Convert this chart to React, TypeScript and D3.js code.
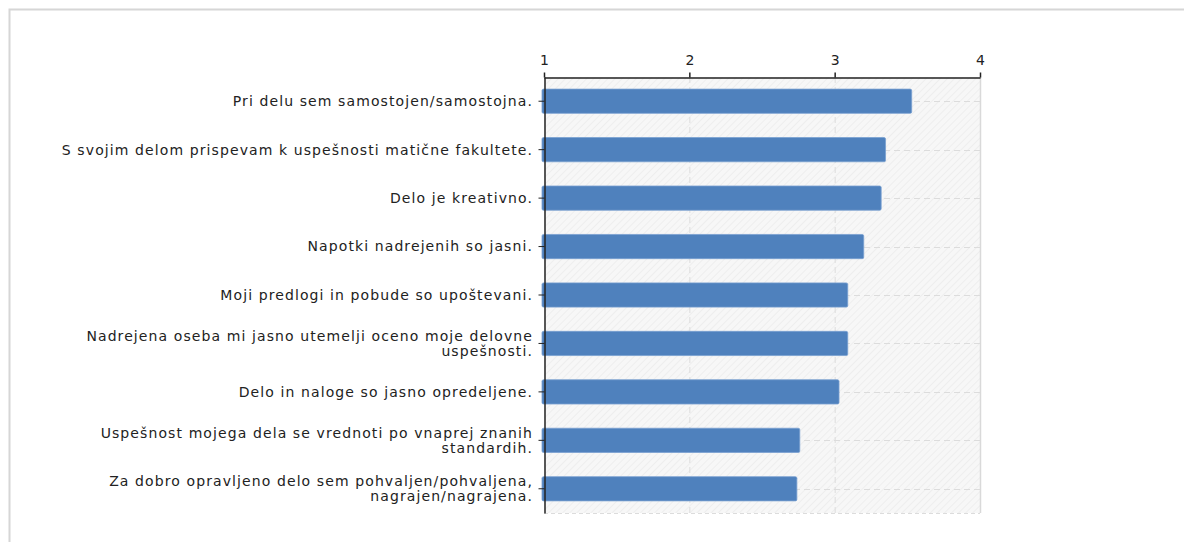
import React, { useEffect, useRef } from 'react';
import * as d3 from 'd3';

// canvas
const width = 1184;
const height = 542;

// plot area
const plotLeft = 544;
const plotRight = 980;
const plotTop = 77;
const plotBottom = 513;

const fontFamily = '"DejaVu Sans", Verdana, sans-serif';
const fontSize = 14;
const letterSpacing = 1.1;
const barColor = '#4f81bd';

// data
const categories = [
  'Pri delu sem samostojen/samostojna.',
  'S svojim delom prispevam k uspešnosti matične fakultete.',
  'Delo je kreativno.',
  'Napotki nadrejenih so jasni.',
  'Moji predlogi in pobude so upoštevani.',
  'Nadrejena oseba mi jasno utemelji oceno moje delovne\nuspešnosti.',
  'Delo in naloge so jasno opredeljene.',
  'Uspešnost mojega dela se vrednoti po vnaprej znanih\nstandardih.',
  'Za dobro opravljeno delo sem pohvaljen/pohvaljena,\nnagrajen/nagrajena.',
];
const values = [3.53, 3.35, 3.32, 3.2, 3.09, 3.09, 3.03, 2.76, 2.74];
const xTicks = [1, 2, 3, 4];

const App = () => {
  const ref = useRef<SVGSVGElement>(null);

  useEffect(() => {
    const svg = d3.select(ref.current);
    svg.selectAll('*').remove();

    const x = d3.scaleLinear().domain([1, 4]).range([plotLeft, plotRight]);
    const y = d3
      .scaleBand<string>()
      .domain(categories)
      .range([plotTop, plotBottom])
      .paddingInner(0.5)
      .paddingOuter(0.25);

    // hatch pattern for the plot background
    const defs = svg.append('defs');
    const pat = defs
      .append('pattern')
      .attr('id', 'hatch')
      .attr('patternUnits', 'userSpaceOnUse')
      .attr('width', 5)
      .attr('height', 5)
      .attr('patternTransform', 'rotate(45)');
    pat.append('rect').attr('width', 5).attr('height', 5).attr('fill', '#f7f7f7');
    pat
      .append('line')
      .attr('x1', 0)
      .attr('y1', 0)
      .attr('x2', 0)
      .attr('y2', 5)
      .attr('stroke', '#e8e8e8')
      .attr('stroke-width', 1.2);

    // outer frame
    svg
      .append('path')
      .attr('d', `M9.5,${height} V9.5 H${width}`)
      .attr('fill', 'none')
      .attr('stroke', '#d6d6d6')
      .attr('stroke-width', 2);

    // plot background
    svg
      .append('rect')
      .attr('x', plotLeft)
      .attr('y', plotTop)
      .attr('width', plotRight - plotLeft)
      .attr('height', plotBottom - plotTop)
      .attr('fill', 'url(#hatch)');

    // grid
    const grid = svg.append('g').attr('stroke', '#dcdcdc').attr('fill', 'none');
    grid
      .selectAll('line.v')
      .data([2, 3])
      .join('line')
      .attr('x1', (d) => x(d) + 0.5)
      .attr('x2', (d) => x(d) + 0.5)
      .attr('y1', plotTop)
      .attr('y2', plotBottom)
      .attr('stroke-dasharray', '6,4');
    grid
      .selectAll('line.h')
      .data(categories)
      .join('line')
      .attr('x1', plotLeft)
      .attr('x2', plotRight)
      .attr('y1', (d) => Math.round(y(d)! + y.bandwidth() / 2) + 0.5)
      .attr('y2', (d) => Math.round(y(d)! + y.bandwidth() / 2) + 0.5)
      .attr('stroke-dasharray', '6,4');
    grid
      .append('line')
      .attr('x1', plotLeft)
      .attr('x2', plotRight)
      .attr('y1', plotBottom + 0.5)
      .attr('y2', plotBottom + 0.5)
      .attr('stroke-dasharray', '4,3');
    grid
      .append('line')
      .attr('x1', plotRight + 0.5)
      .attr('x2', plotRight + 0.5)
      .attr('y1', plotTop)
      .attr('y2', plotBottom)
      .attr('stroke', '#d9d9d9')
      .attr('stroke-width', 1.5);

    // bars
    svg
      .append('g')
      .selectAll('rect')
      .data(values)
      .join('rect')
      .attr('x', plotLeft - 2)
      .attr('y', (_, i) => y(categories[i])!)
      .attr('width', (d) => x(d) - plotLeft + 2)
      .attr('height', y.bandwidth())
      .attr('rx', 1.5)
      .attr('fill', barColor)
      .attr('stroke', '#79a0d0')
      .attr('stroke-width', 0.8);

    // top axis
    const xAxis = svg
      .append('g')
      .attr('transform', `translate(0,${plotTop + 0.5})`)
      .call(d3.axisTop(x).tickValues(xTicks).tickSize(5).tickSizeOuter(0).tickFormat(d3.format('d')));
    xAxis.select('.domain').attr('stroke', '#222').attr('stroke-width', 1.5);
    xAxis.selectAll('.tick line').attr('stroke', '#222').attr('stroke-width', 1.5);
    xAxis
      .selectAll('.tick text')
      .attr('font-family', fontFamily)
      .attr('font-size', fontSize)
      .attr('fill', '#222')
      .attr('dy', '-0.35em');

    // left axis
    const yAxis = svg
      .append('g')
      .attr('transform', `translate(${plotLeft + 0.5},0)`)
      .call(d3.axisLeft(y).tickSize(6).tickSizeOuter(0).tickFormat(() => ''));
    yAxis.select('.domain').attr('stroke', '#222').attr('stroke-width', 1.5);
    yAxis.selectAll('.tick line').attr('stroke', '#222');

    // category labels (may wrap onto two lines)
    const labels = svg
      .append('g')
      .attr('font-family', fontFamily)
      .attr('font-size', fontSize)
      .attr('letter-spacing', letterSpacing)
      .attr('fill', '#222')
      .attr('text-anchor', 'end');
    categories.forEach((c) => {
      const lines = c.split('\n');
      const cy = y(c)! + y.bandwidth() / 2;
      const lh = 15;
      const t = labels.append('text').attr('x', 533).attr('y', cy - ((lines.length - 1) * lh) / 2);
      lines.forEach((ln, j) => {
        t.append('tspan')
          .attr('x', 533)
          .attr('dy', j === 0 ? '0.35em' : lh)
          .text(ln);
      });
    });
  }, []);

  return (
    <svg
      ref={ref}
      width={width}
      height={height}
      style={{ position: 'absolute', left: 0, top: 0, background: '#fff' }}
    />
  );
};

export default App;
